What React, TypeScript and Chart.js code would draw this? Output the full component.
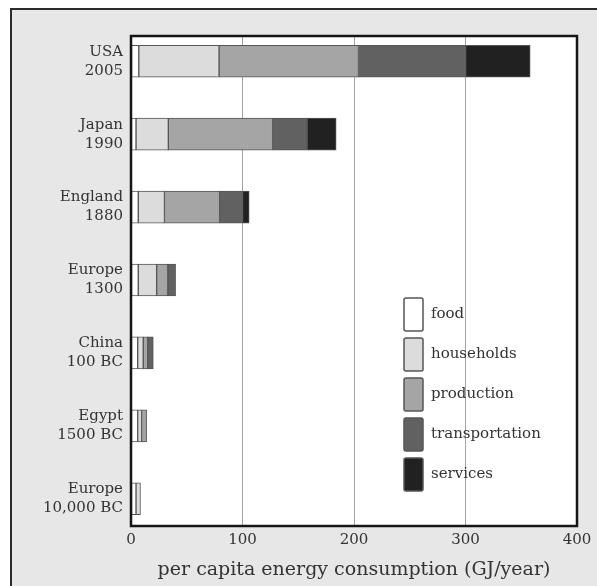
import React, { useEffect, useRef } from "react";
import { Chart, registerables } from "chart.js";

Chart.register(...registerables);

const places = ["USA", "Japan", "England", "Europe", "China", "Egypt", "Europe"];
const years = ["2005", "1990", "1880", "1300", "100 BC", "1500 BC", "10,000 BC"];
const seriesNames = ["food", "households", "production", "transportation", "services"];
const food = [7, 4.5, 6.5, 6.5, 6, 6, 4.5];
const households = [72, 29, 23.5, 16.5, 5, 3.5, 4];
const production = [125, 93.5, 49.5, 10, 4, 4.5, 0];
const transportation = [96, 31, 20.5, 7, 5, 0, 0];
const services = [58, 26, 6, 0, 0, 0, 0];
const xTickValues = [0, 100, 200, 300, 400];
const xTitle = "per capita energy consumption (GJ/year)";

const seriesValues = [food, households, production, transportation, services];
const seriesColors = ["#ffffff", "#dcdcdc", "#a5a5a5", "#616161", "#212121"];
const FONT = "'DejaVu Serif', 'Liberation Serif', serif";
const TEXT = "#333333";

const framePlugin = {
  id: "framePlugin",
  beforeDraw(chart: any) {
    const { ctx, chartArea, width, height } = chart;
    ctx.save();
    ctx.fillStyle = "#ffffff";
    ctx.fillRect(0, 0, width, height);
    ctx.fillStyle = "#e7e7e7";
    ctx.fillRect(11, 9, width, height);
    ctx.strokeStyle = "#2b2b2b";
    ctx.lineWidth = 2;
    ctx.beginPath();
    ctx.moveTo(11, height + 5);
    ctx.lineTo(11, 9);
    ctx.lineTo(width + 5, 9);
    ctx.stroke();
    ctx.fillStyle = "#ffffff";
    ctx.fillRect(chartArea.left, chartArea.top, chartArea.right - chartArea.left, chartArea.bottom - chartArea.top);
    ctx.restore();
  },
  afterDraw(chart: any) {
    const { ctx, chartArea } = chart;
    ctx.save();
    ctx.strokeStyle = "#151515";
    ctx.lineWidth = 2.5;
    ctx.strokeRect(chartArea.left, chartArea.top, chartArea.right - chartArea.left, chartArea.bottom - chartArea.top);
    // legend
    const lx = chartArea.left + 273;
    const ly = chartArea.top + 262;
    ctx.font = `15px ${FONT}`;
    ctx.textBaseline = "middle";
    ctx.textAlign = "left";
    chart.data.datasets.forEach((ds: any, i: number) => {
      const top = ly + i * 40;
      ctx.fillStyle = ds.backgroundColor;
      ctx.beginPath();
      ctx.roundRect(lx, top, 19, 33, 2);
      ctx.fill();
      ctx.strokeStyle = "#555555";
      ctx.lineWidth = 1.5;
      ctx.stroke();
      ctx.fillStyle = TEXT;
      ctx.fillText(ds.label, lx + 27, top + 16);
    });
    ctx.restore();
  },
};

export default function App() {
  const ref = useRef<HTMLCanvasElement | null>(null);
  useEffect(() => {
    if (!ref.current) return;
    const datasets = seriesNames.map((name, si) => ({
      label: name,
      data: seriesValues[si].map((v, i) => ({ x: v === 0 ? null : v, y: i })),
      backgroundColor: seriesColors[si],
      borderColor: "#555555",
      borderWidth: 1,
      borderSkipped: false,
      barThickness: 32,
    }));
    const chart = new Chart(ref.current, {
      type: "bar",
      data: { datasets: datasets as any },
      options: {
        animation: false,
        responsive: true,
        maintainAspectRatio: false,
        devicePixelRatio: 1,
        indexAxis: "y",
        layout: { padding: { left: 0, top: 36, right: 20, bottom: 0 } },
        plugins: { legend: { display: false }, tooltip: { enabled: false } },
        scales: {
          x: {
            type: "linear",
            stacked: true,
            min: 0,
            max: 400,
            offset: false,
            afterBuildTicks: (scale: any) => {
              scale.ticks = xTickValues.map((v) => ({ value: v }));
            },
            afterFit: (scale: any) => {
              scale.height = 60;
            },
            grid: {
              drawTicks: false,
              offset: false,
              color: (c: any) => (c.tick && (c.tick.value === 0 || c.tick.value === 400) ? "rgba(0,0,0,0)" : "#a3a3a3"),
              lineWidth: 1,
            },
            border: { display: false },
            ticks: { padding: 5, color: TEXT, font: { family: FONT, size: 15 }, maxRotation: 0 },
            title: {
              display: true,
              text: xTitle,
              color: TEXT,
              font: { family: FONT, size: 19 },
              padding: { top: 0, bottom: 5 },
            },
          },
          y: {
            type: "linear",
            stacked: true,
            reverse: true,
            offset: false,
            min: -0.346,
            max: 6.374,
            afterBuildTicks: (scale: any) => {
              scale.ticks = places.map((_, i) => ({ value: i }));
            },
            afterFit: (scale: any) => {
              scale.width = 131;
            },
            grid: { display: false, drawTicks: false, offset: false },
            border: { display: false },
            ticks: {
              padding: 8,
              color: TEXT,
              font: { family: FONT, size: 15, lineHeight: 1.27 },
              callback: (v: any) => {
                const i = Math.round(Number(v));
                return places[i] !== undefined ? [places[i], years[i]] : "";
              },
            },
          },
        },
      },
      plugins: [framePlugin],
    });
    return () => chart.destroy();
  }, []);
  return (
    <div style={{ position: "fixed", left: 0, top: 0, width: 597, height: 586 }}>
      <canvas ref={ref} />
    </div>
  );
}
